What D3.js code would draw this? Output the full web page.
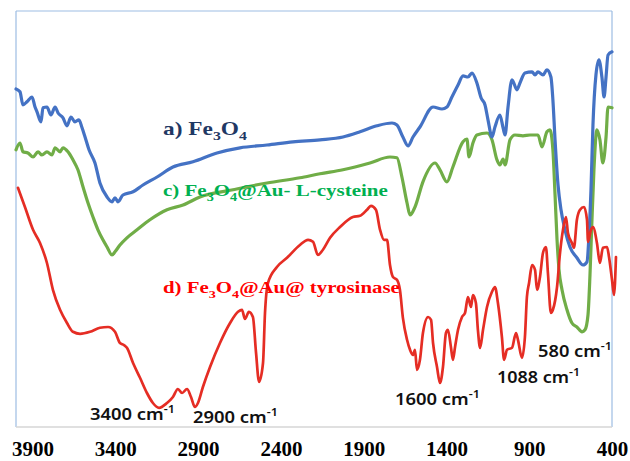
<!DOCTYPE html>
<html>
<head>
<meta charset="utf-8">
<script src="https://cdn.jsdelivr.net/npm/d3@7"></script>
<style>
  body { margin: 0; background: #fff; }
  svg { display: block; }
</style>
</head>
<body>
<div id="chart"></div>
<script>
// FTIR spectra, wavenumber (cm-1) against transmittance (a.u.)
var blueWn = [4000,3976,3958,3934,3903,3885,3873,3849,3837,3813,3789,3764,3746,3716,3692,3668,3644,3620,3601,3583,3559,3523,3493,3450,3420,3402,3384,3354,3293,3233,3148,3052,2931,2786,2647,2484,2327,2164,2025,1922,1820,1729,1699,1663,1632,1602,1560,1481,1427,1397,1367,1330,1300,1270,1246,1216,1191,1167,1149,1125,1107,1077,1058,1046,1028,1004,974,956,926,883,865,847,817,793,769,757,744,726,708,684,654,612,575,551,539,527,515,497,479,461,448,436,424,400];
var blueT = [84.5,83.8,80.5,81.3,82.5,80,78.8,76.3,79.8,80,78,80,78.5,77.3,75.3,77.5,76.3,76.8,74.8,72.5,69.3,66,61,57.5,56.3,57.3,56.3,58,58.8,60.5,62.5,65,66.3,68.5,69.8,70.5,71.3,71.8,72.5,73.8,75.3,76,75.5,72.5,70.3,72.5,75,80,79.5,80,82.5,85.5,87.8,87.5,88.5,86,82.3,80.5,76.8,72.5,75,78,74.8,73,80,86.8,84.3,86,88.5,88.8,88,88.8,88,89.3,87.5,81.8,71.8,60.5,54.3,49.3,45,42.3,40.5,41.3,48,59.3,75.5,88,91.8,87.5,82.5,87.5,93,93.8];

var greenWn = [4000,3976,3958,3928,3897,3867,3843,3813,3783,3764,3734,3716,3686,3656,3626,3595,3565,3535,3505,3475,3450,3420,3402,3372,3330,3269,3191,3088,2991,2889,2689,2484,2285,2164,2025,1862,1741,1699,1669,1638,1620,1590,1542,1469,1439,1397,1361,1300,1276,1264,1240,1216,1155,1125,1095,1077,1058,1046,1016,986,938,895,847,823,793,775,757,744,732,720,702,672,642,612,581,563,545,533,521,509,491,473,455,436,424,400];
var greenT = [69.3,71,68.8,68.5,67.5,68.8,68,68.8,68,69.8,68.8,69.8,68.8,66.8,64.3,60,56,52.5,49.3,46.8,45,43,43.8,45.5,47.3,49.3,51.8,54.3,55.5,57.5,59.3,61,62.3,63.3,64.3,66,67.5,67.3,62.5,56,53,55,61.3,66,64.3,61.3,65,71.3,72,67.5,71,73,73.5,71.8,66.8,65.5,67,65.5,71.8,73,72.8,73,73,70,73.8,74.3,69.3,58,46.8,39.3,34.3,29.3,26,25,23.8,24.3,28,38,51.8,64.3,74.3,71.8,66,72.5,80,79.8];

var redWn = [3988,3946,3897,3855,3813,3777,3734,3692,3656,3613,3553,3493,3444,3402,3372,3348,3330,3293,3251,3209,3173,3136,3088,3052,3022,2997,2967,2943,2919,2901,2871,2828,2768,2707,2659,2635,2617,2593,2569,2550,2532,2508,2496,2478,2424,2363,2285,2236,2206,2176,2146,2103,2043,1965,1922,1880,1856,1826,1801,1777,1759,1741,1723,1699,1681,1663,1638,1620,1602,1590,1578,1560,1542,1511,1493,1481,1457,1439,1421,1403,1391,1373,1361,1348,1330,1306,1288,1270,1252,1240,1222,1210,1197,1179,1155,1125,1107,1089,1065,1052,1034,1004,980,968,944,926,914,901,883,865,853,835,817,799,787,769,757,732,714,696,678,666,642,630,612,593,569,551,545,527,515,491,473,455,430,418,400,388,376];
var redT = [59.8,55,49.3,46,41,34.3,29.3,26,23.8,23.3,23.8,24.8,25,23.8,21,20.5,19.8,16,12.3,8.5,6,4.8,6,7.5,9.5,8.5,9.5,7.5,5,6,10,15,21,26,28.8,29.3,27,28.8,27.5,18.5,11.3,16,28.5,36,40,42.3,45.5,46.8,46.3,43,44.3,47.3,50,52.5,52.8,54.3,55.3,54.3,49.3,46.8,46.8,40.5,37.5,36.8,34.3,27.3,21.8,19.3,18,19.3,14.3,16.8,23.5,27.5,26.8,21,15,11,15,23.5,24.3,20,16.8,20,24.3,27.5,28.5,32.5,30,33,31,24.3,19.8,24.3,30,33.8,35,31,22.5,16.8,19.3,19.8,23.5,21.8,17.3,22.5,32.5,36,40.5,39.3,34.3,37.5,43.5,45,38.5,28.5,29.3,35,43.5,49.3,52.5,48.5,46,44.8,51.8,54.3,55,51.8,46.3,49.3,50,46,41,44.8,45,42.5,36.8,33,42.5];

var tickValues = [3900, 3400, 2900, 2400, 1900, 1400, 900, 400];

var seriesNames = ["a) Fe|3|O|4|", "c) Fe|3|O|4|@Au- L-cysteine", "d) Fe|3|O|4|@Au@ tyrosinase"];
var peakLabels = ["3400", "2900", "1600", "1088", "580"];

var svgWidth = 630;
var svgHeight = 461;

var svg = d3.select("#chart")
  .append("svg")
  .attr("width", svgWidth)
  .attr("height", svgHeight);

// scales: wavenumber runs right to left
var xScale = d3.scaleLinear().domain([4000, 400]).range([16, 612]);
var yScale = d3.scaleLinear().domain([0, 104]).range([427, 11]);

// plot frame
svg.append("line").attr("x1", 16).attr("x2", 612).attr("y1", 11).attr("y2", 11)
  .attr("stroke", "#9dbde3").attr("stroke-width", 1.2);
svg.append("line").attr("x1", 16).attr("x2", 16).attr("y1", 11).attr("y2", 427)
  .attr("stroke", "#9dbde3").attr("stroke-width", 1.2);
svg.append("line").attr("x1", 612).attr("x2", 612).attr("y1", 11).attr("y2", 427)
  .attr("stroke", "#9dbde3").attr("stroke-width", 1.2);
svg.append("line").attr("x1", 16).attr("x2", 612).attr("y1", 427).attr("y2", 427)
  .attr("stroke", "#d6d6d6").attr("stroke-width", 1.5);

function toPoints(wn, t) {
  return wn.map(function(w, i) { return { wn: w, t: t[i] }; });
}

var line = d3.line()
  .x(function(d) { return xScale(d.wn); })
  .y(function(d) { return yScale(d.t); })
  .curve(d3.curveMonotoneX);

var series = [
  { pts: toPoints(greenWn, greenT), color: "#70ad47", width: 3.2 },
  { pts: toPoints(blueWn, blueT), color: "#4472c4", width: 3.2 },
  { pts: toPoints(redWn, redT), color: "#e52d24", width: 2.7 }
];

series.forEach(function(s) {
  svg.append("path")
    .datum(s.pts)
    .attr("fill", "none")
    .attr("stroke", s.color)
    .attr("stroke-width", s.width)
    .attr("stroke-linejoin", "round")
    .attr("stroke-linecap", "round")
    .attr("d", line);
});

// x axis, labels only
var bottomAxis = d3.axisBottom(xScale)
  .tickValues(tickValues)
  .tickSize(0)
  .tickPadding(14)
  .tickFormat(d3.format("d"));

var xAxis = svg.append("g")
  .attr("transform", "translate(0,427)")
  .call(bottomAxis);
xAxis.select(".domain").remove();
xAxis.selectAll("text")
  .attr("fill", "#000")
  .style("font-family", "'Liberation Serif', 'Times New Roman', serif")
  .style("font-weight", "bold")
  .style("font-size", "21px");

// text with sub/superscripts, stretched to a given width
function richText(str, x, y, width, opts) {
  var g = svg.append("g");
  var t = g.append("text")
    .attr("x", 0).attr("y", 0)
    .attr("fill", opts.color)
    .style("font-family", opts.family)
    .style("font-weight", opts.weight)
    .style("font-size", opts.size + "px");
  var parts = str.split("|");
  parts.forEach(function(p, i) {
    if (p === "") return;
    var small = i % 2 === 1;
    var ts = t.append("tspan").text(p);
    if (small) {
      ts.attr("font-size", opts.size * 0.68)
        .attr("dy", opts.shift);
    } else if (i > 0) {
      ts.attr("dy", -opts.shift);
    }
  });
  var w = t.node().getComputedTextLength();
  var sx = width / w;
  g.attr("transform", "translate(" + x + "," + y + ") scale(" + sx + ",1)");
}

var serif = "'Liberation Serif', 'Times New Roman', serif";
richText(seriesNames[0], 163, 135, 84, { color: "#1f3864", family: serif, weight: "bold", size: 18, shift: 5 });
richText(seriesNames[1], 163, 196, 225, { color: "#00b050", family: serif, weight: "bold", size: 17, shift: 5 });
richText(seriesNames[2], 163, 293, 237, { color: "#ff0000", family: serif, weight: "bold", size: 16.5, shift: 5 });

// peak annotations
var sans = "'Noto Sans', 'Open Sans', sans-serif";
var peakPos = [
  { x: 90, y: 420, w: 85 },
  { x: 193, y: 423, w: 85 },
  { x: 395, y: 405, w: 85 },
  { x: 497, y: 383, w: 83 },
  { x: 538, y: 357, w: 74 }
];
peakLabels.forEach(function(lab, i) {
  var p = peakPos[i];
  richText(lab + " cm|-1|", p.x, p.y, p.w, { color: "#111", family: sans, weight: "600", size: 16.5, shift: -7 });
});
</script>
</body>
</html>
